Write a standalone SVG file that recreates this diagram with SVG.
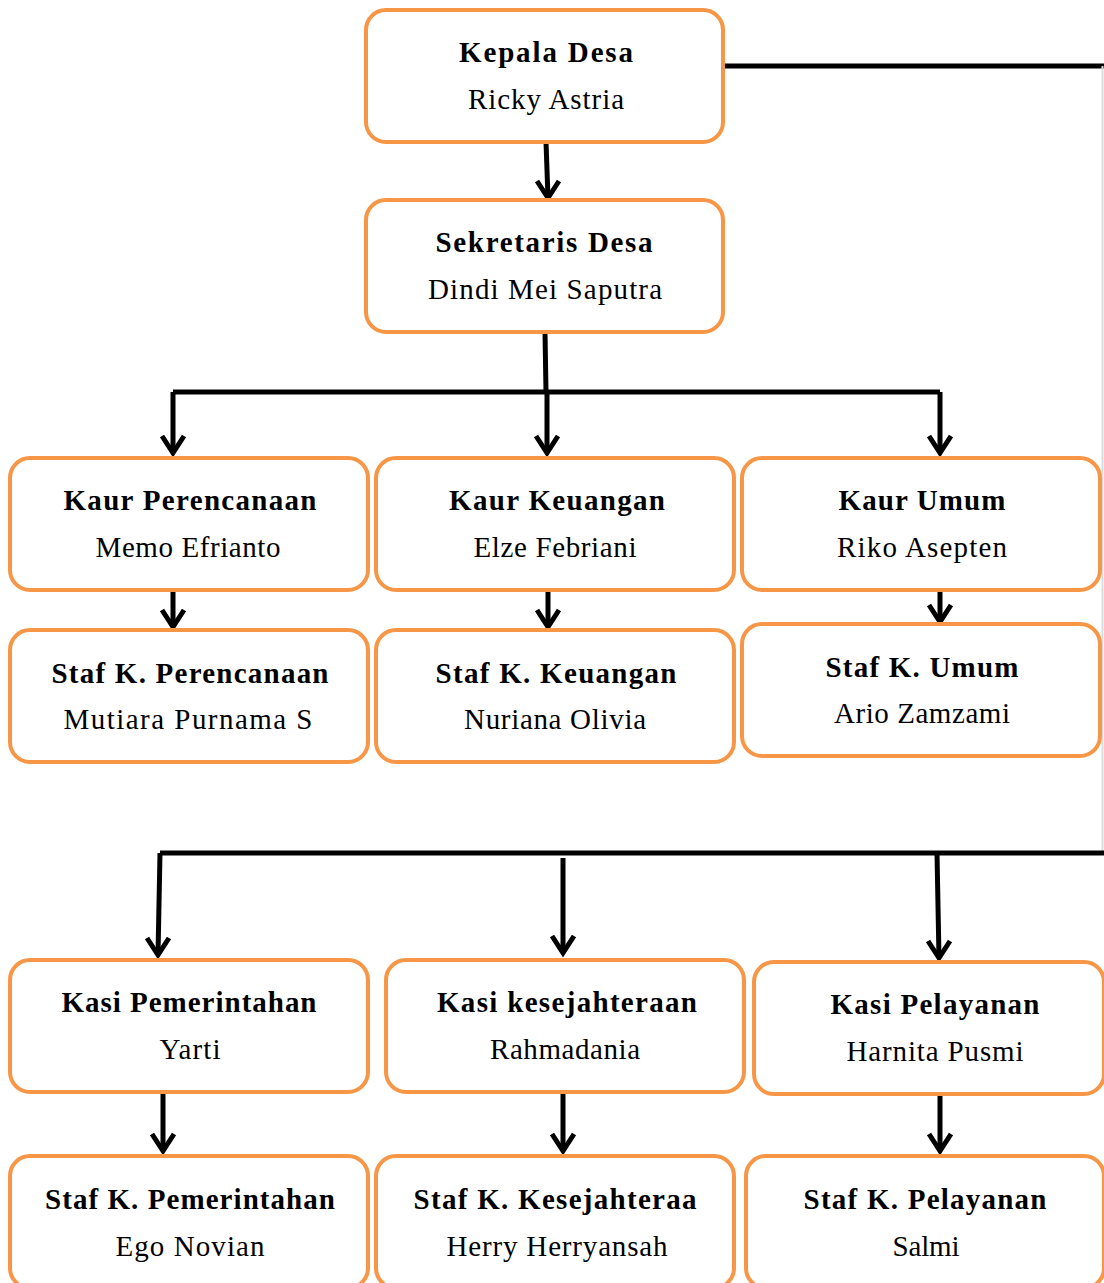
<svg xmlns="http://www.w3.org/2000/svg" width="1104" height="1283" viewBox="0 0 1104 1283">
<style>
.box{fill:#fff;stroke:#F79646;stroke-width:4}
.t{font-family:"Liberation Serif","Times New Roman",serif;font-size:29px;fill:#000;text-anchor:middle}
.b{font-weight:bold}
.ln{fill:none;stroke:#000;stroke-width:5}
.ah{fill:none;stroke:#000;stroke-width:5;stroke-linejoin:miter}
</style>
<rect width="1104" height="1283" fill="#fff"/>
<g id="connectors">
<path class="ln" d="M723 66H1104"/>
<path d="M1102.5 66V853" stroke="#dcdcdc" stroke-width="2" fill="none"/>
<path class="ln" d="M160 853H1104"/>
<path class="ln" d="M546 142L548 198"/>
<path class="ah" d="M537 181L548 198L559 181"/>
<path class="ln" d="M545 332L546 392M173 392H940"/>
<path class="ln" d="M173 392V453M547 392V453M940 392V453"/>
<path class="ah" d="M162 436L173 453L184 436M536 436L547 453L558 436M929 436L940 453L951 436"/>
<path class="ln" d="M173 590V627M548 590V627M940 590V622"/>
<path class="ah" d="M162 610L173 627L184 610M537 610L548 627L559 610M929 605L940 622L951 605"/>
<path class="ln" d="M160 853L158 955M563 858V953M937 853L939 958"/>
<path class="ah" d="M147 938L158 955L169 938M552 936L563 953L574 936M928 941L939 958L950 941"/>
<path class="ln" d="M163 1092V1151M563 1092V1151M940 1094V1151"/>
<path class="ah" d="M152 1134L163 1151L174 1134M552 1134L563 1151L574 1134M929 1134L940 1151L951 1134"/>
</g>
<g id="kepala"><rect class="box" x="366" y="10" width="357" height="132" rx="20"/>
<text class="t b" x="546" y="62" textLength="174" lengthAdjust="spacing">Kepala Desa</text>
<text class="t" x="546" y="109" textLength="156" lengthAdjust="spacing">Ricky  Astria</text></g>
<g id="sekretaris"><rect class="box" x="366" y="200" width="357" height="132" rx="20"/>
<text class="t b" x="544" y="252" textLength="217" lengthAdjust="spacing">Sekretaris Desa</text>
<text class="t" x="545" y="299" textLength="234" lengthAdjust="spacing">Dindi  Mei Saputra</text></g>
<g id="kaur-perencanaan"><rect class="box" x="10" y="458" width="358" height="132" rx="20"/>
<text class="t b" x="190" y="510" textLength="253" lengthAdjust="spacing">Kaur  Perencanaan</text>
<text class="t" x="188" y="557" textLength="185" lengthAdjust="spacing">Memo  Efrianto</text></g>
<g id="kaur-keuangan"><rect class="box" x="376" y="458" width="358" height="132" rx="20"/>
<text class="t b" x="557" y="510" textLength="216" lengthAdjust="spacing">Kaur  Keuangan</text>
<text class="t" x="555" y="557" textLength="163" lengthAdjust="spacing">Elze  Febriani</text></g>
<g id="kaur-umum"><rect class="box" x="742" y="458" width="358" height="132" rx="20"/>
<text class="t b" x="922" y="510" textLength="167" lengthAdjust="spacing">Kaur  Umum</text>
<text class="t" x="922" y="557" textLength="170" lengthAdjust="spacing">Riko  Asepten</text></g>
<g id="staf-perencanaan"><rect class="box" x="10" y="630" width="358" height="132" rx="20"/>
<text class="t b" x="190" y="683" textLength="277" lengthAdjust="spacing">Staf K. Perencanaan</text>
<text class="t" x="188" y="729" textLength="249" lengthAdjust="spacing">Mutiara  Purnama  S</text></g>
<g id="staf-keuangan"><rect class="box" x="376" y="630" width="358" height="132" rx="20"/>
<text class="t b" x="556" y="683" textLength="241" lengthAdjust="spacing">Staf K. Keuangan</text>
<text class="t" x="555" y="729" textLength="182" lengthAdjust="spacing">Nuriana  Olivia</text></g>
<g id="staf-umum"><rect class="box" x="742" y="624" width="358" height="132" rx="20"/>
<text class="t b" x="922" y="677" textLength="193" lengthAdjust="spacing">Staf K. Umum</text>
<text class="t" x="922" y="723" textLength="176" lengthAdjust="spacing">Ario  Zamzami</text></g>
<g id="kasi-pemerintahan"><rect class="box" x="10" y="960" width="358" height="132" rx="20"/>
<text class="t b" x="189" y="1012" textLength="255" lengthAdjust="spacing">Kasi Pemerintahan</text>
<text class="t" x="190" y="1059" textLength="61" lengthAdjust="spacing">Yarti</text></g>
<g id="kasi-kesejahteraan"><rect class="box" x="386" y="960" width="358" height="132" rx="20"/>
<text class="t b" x="567" y="1012" textLength="260" lengthAdjust="spacing">Kasi kesejahteraan</text>
<text class="t" x="565" y="1059" textLength="150" lengthAdjust="spacing">Rahmadania</text></g>
<g id="kasi-pelayanan"><rect class="box" x="754" y="962" width="350" height="132" rx="20"/>
<text class="t b" x="935" y="1014" textLength="209" lengthAdjust="spacing">Kasi Pelayanan</text>
<text class="t" x="935" y="1061" textLength="177" lengthAdjust="spacing">Harnita  Pusmi</text></g>
<g id="staf-pemerintahan"><rect class="box" x="10" y="1156" width="358" height="132" rx="20"/>
<text class="t b" x="190" y="1209" textLength="290" lengthAdjust="spacing">Staf K. Pemerintahan</text>
<text class="t" x="190" y="1256" textLength="149" lengthAdjust="spacing">Ego  Novian</text></g>
<g id="staf-kesejahteraan"><rect class="box" x="376" y="1156" width="358" height="132" rx="20"/>
<text class="t b" x="555" y="1209" textLength="283" lengthAdjust="spacing">Staf K. Kesejahteraa</text>
<text class="t" x="557" y="1256" textLength="221" lengthAdjust="spacing">Herry Herryansah</text></g>
<g id="staf-pelayanan"><rect class="box" x="746" y="1156" width="358" height="132" rx="20"/>
<text class="t b" x="925" y="1209" textLength="243" lengthAdjust="spacing">Staf K. Pelayanan</text>
<text class="t" x="926" y="1256" textLength="67" lengthAdjust="spacing">Salmi</text></g>
</svg>
